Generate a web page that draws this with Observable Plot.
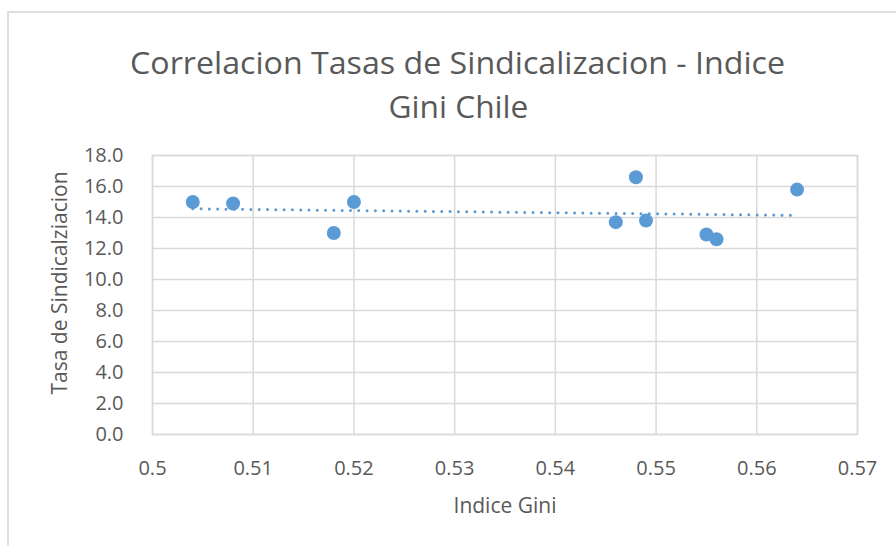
<!DOCTYPE html>
<html>
<head>
<meta charset="utf-8">
<script src="https://cdn.jsdelivr.net/npm/d3@7"></script>
<script src="https://cdn.jsdelivr.net/npm/@observablehq/plot@0.6"></script>
<style>
  html, body { margin: 0; padding: 0; background: #fff; }
  #wrap { position: relative; width: 896px; height: 546px; overflow: hidden; font-family: "Open Sans", sans-serif; }
  #border { position: absolute; left: 7px; top: 11px; right: 0; bottom: 0; border-top: 2px solid #dedede; border-left: 2px solid #dedede; }
  #title { position: relative; height: 140px; color: #595959; }
  .tline { position: absolute; left: 0; width: 896px; text-align: center; font-size: 31px; line-height: 44px; white-space: nowrap; }
  .tline span { display: inline-block; transform-origin: center; }
  #chart { position: relative; }
</style>
</head>
<body>
<div id="wrap">
  <div id="border"></div>
  <div id="title">
    <div class="tline" style="top:40px; margin-left:10px"><span id="t1">Correlacion Tasas de Sindicalizacion - Indice</span></div>
    <div class="tline" style="top:84px; margin-left:10px"><span id="t2">Gini Chile</span></div>
  </div>
  <div id="chart"></div>
</div>
<script>
// Data
const gini = [0.504, 0.508, 0.518, 0.520, 0.546, 0.548, 0.549, 0.555, 0.556, 0.564];
const tasa = [15.0, 14.9, 13.0, 15.0, 13.7, 16.6, 13.8, 12.9, 12.6, 15.8];
const xTicks = [0.5, 0.51, 0.52, 0.53, 0.54, 0.55, 0.56, 0.57];
const xTickLabels = ["0.5", "0.51", "0.52", "0.53", "0.54", "0.55", "0.56", "0.57"];
const yTicks = [0, 2, 4, 6, 8, 10, 12, 14, 16, 18];
const xTitle = "Indice Gini";
const yTitle = "Tasa de Sindicalziacion";

const data = gini.map((g, i) => ({gini: g, tasa: tasa[i]}));
const textColor = "#595959";
const gridColor = "#d9d9d9";

// squeeze the title lines to the reference widths (Calibri is narrower than Open Sans)
function fit(id, w) {
  const el = document.getElementById(id);
  const cur = el.getBoundingClientRect().width;
  if (cur > 0) el.style.transform = `scaleX(${w / cur})`;
}
fit("t1", 655);
fit("t2", 140);

const chart = Plot.plot({
  width: 896,
  height: 406,
  marginTop: 15,
  marginBottom: 112,
  marginLeft: 152,
  marginRight: 39,
  style: {fontFamily: "Open Sans, sans-serif", fontSize: "20px", color: textColor, background: "transparent", overflow: "visible"},
  x: {domain: [0.5, 0.57]},
  y: {domain: [0, 18]},
  marks: [
    Plot.gridX(xTicks, {stroke: gridColor, strokeOpacity: 1, strokeWidth: 1.5}),
    Plot.gridY(yTicks, {stroke: gridColor, strokeOpacity: 1, strokeWidth: 1.5}),
    Plot.frame({stroke: gridColor, strokeWidth: 1.5}),
    Plot.axisX(xTicks, {tickSize: 0, tickPadding: 26, tickFormat: (d, i) => xTickLabels[i], label: null, fill: textColor, fontSize: 20}),
    Plot.axisY(yTicks, {tickSize: 0, tickPadding: 29, tickFormat: d3.format(".1f"), label: null, fill: textColor, fontSize: 20}),
    Plot.linearRegressionY(data, {x: "gini", y: "tasa", ci: 0, stroke: "#5b9bd5", strokeWidth: 3, strokeDasharray: "0 8.3", strokeLinecap: "round"}),
    Plot.dot(data, {x: "gini", y: "tasa", r: 7, fill: "#5b9bd5", stroke: "none"}),
    Plot.text([xTitle], {frameAnchor: "bottom", lineAnchor: "middle", textAnchor: "middle", dy: 72, fill: textColor, fontSize: 21}),
    Plot.text([yTitle], {frameAnchor: "left", textAnchor: "middle", lineAnchor: "middle", dx: -92, dy: -12, rotate: -90, fill: textColor, fontSize: 21})
  ]
});
document.getElementById("chart").appendChild(chart);
</script>
</body>
</html>
